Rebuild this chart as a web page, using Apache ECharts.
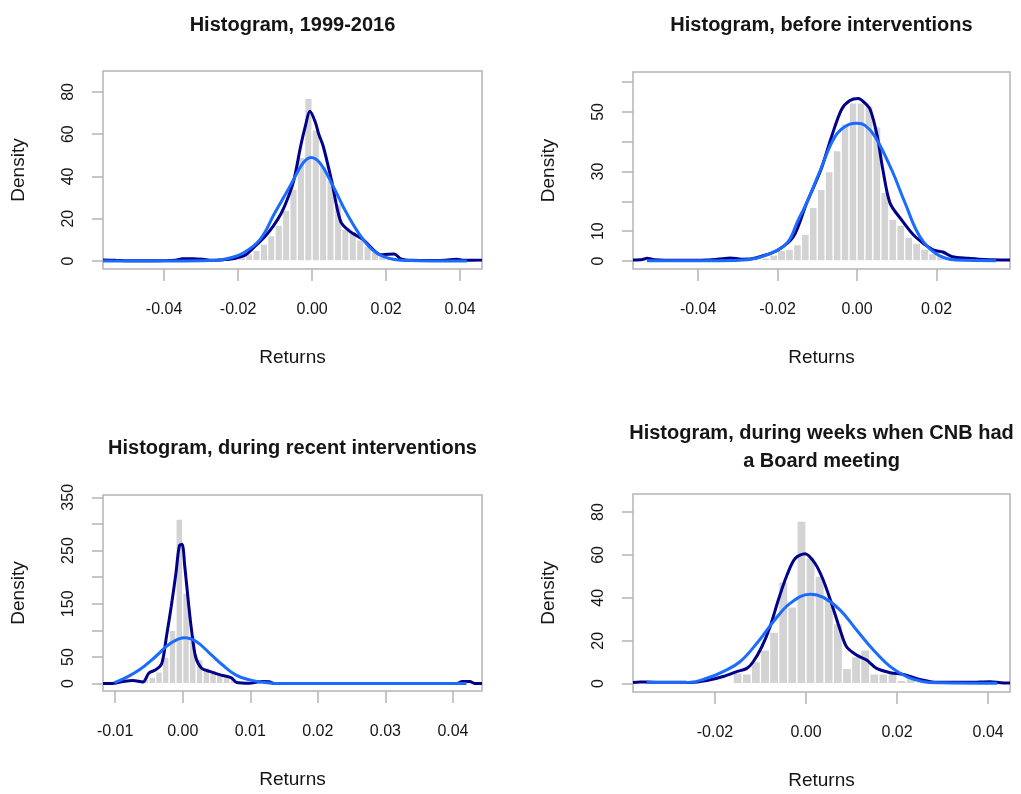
<!DOCTYPE html>
<html>
<head>
<meta charset="utf-8">
<title>Histograms of returns</title>
<script src="https://cdn.jsdelivr.net/npm/echarts@6/dist/echarts.min.js"></script>
<style>
  html, body { margin: 0; background: #fff; }
  #main { width: 1021px; height: 794px; }
</style>
</head>
<body>
<div id="main"></div>
<script>
// ---- values ----

// panel 1: 1999-2016
var p1Title = 'Histogram, 1999-2016';
var p1BinStart = -0.026, p1BinWidth = 0.002;
var p1Bars = [0.5, 0.8, 1.2, 2.0, 3.5, 5, 8, 12, 17, 24, 34, 49, 77, 62, 45, 38, 27, 15, 14, 10, 7, 4, 3, 2, 1.5, 1, 0.6, 0.4];
var p1Kde = [[-0.0565,0.5],[-0.053,0.3],[-0.048,0.1],[-0.042,0.1],[-0.037,0.4],[-0.035,1.0],[-0.032,1.1],[-0.0295,0.8],[-0.027,0.3],[-0.024,0.6],[-0.021,1.2],[-0.018,2.8],[-0.016,6.0],[-0.0128,11.5],[-0.0105,16.5],[-0.0083,22.7],[-0.0065,30],[-0.0049,38.5],[-0.0031,54.3],[-0.0018,64],[-0.0006,70.8],[0.0008,66],[0.0018,60],[0.003,54.3],[0.0052,38.5],[0.0077,18.7],[0.0102,14],[0.0138,10.1],[0.0165,5.4],[0.0185,3.0],[0.0205,3.2],[0.0222,3.3],[0.024,1.0],[0.027,0.3],[0.032,0.2],[0.036,0.3],[0.039,0.8],[0.041,0.3],[0.0459,0.4]];
var p1Norm = [[-0.0565,0.0],[-0.035,0.0],[-0.0258,0.3],[-0.0222,1.4],[-0.0186,3.8],[-0.0141,10.1],[-0.0101,22.7],[-0.006,35.3],[-0.0024,46.4],[-0.0003,49],[0.0021,46.4],[0.0057,35.3],[0.0093,22.7],[0.0138,10.1],[0.0174,3.8],[0.0219,0.8],[0.026,0.2],[0.032,0.0],[0.0418,0.0]];
var p1XTicks = [-0.04, -0.02, 0, 0.02, 0.04];
var p1YTicks = [0, 20, 40, 60, 80];
var p1YLabels = [0, 20, 40, 60, 80];

// panel 2: before interventions
var p2Title = 'Histogram, before interventions';
var p2BinStart = -0.024, p2BinWidth = 0.002;
var p2Bars = [1, 2, 3.5, 4, 5.5, 9, 18, 24, 30, 37, 46, 53, 53, 52, 45, 23, 14, 12, 8, 6, 4, 2.5, 2, 1.2, 0.6];
var p2Kde = [[-0.0564,0.3],[-0.054,0.5],[-0.0529,0.9],[-0.051,0.4],[-0.045,0.2],[-0.038,0.3],[-0.034,0.7],[-0.032,1.0],[-0.029,0.6],[-0.0265,0.7],[-0.0244,1.4],[-0.0199,3.7],[-0.016,8.2],[-0.0127,19.4],[-0.0091,30.6],[-0.0064,41.8],[-0.0039,50.8],[-0.0018,53.8],[0.0003,54.5],[0.0018,53.2],[0.0033,50.8],[0.0051,41.8],[0.0065,30.6],[0.0083,19.4],[0.0112,13.8],[0.0146,8.2],[0.0191,3.7],[0.0216,3.0],[0.024,1.4],[0.028,0.9],[0.032,0.5],[0.0385,0.3]];
var p2Norm = [[-0.0529,0.1],[-0.035,0.1],[-0.027,0.5],[-0.0227,2],[-0.0177,5.9],[-0.0148,13.8],[-0.0127,19.4],[-0.0092,30.6],[-0.0055,41.8],[-0.002,45.8],[0.0,46.2],[0.002,45.5],[0.0045,41.8],[0.0087,30.6],[0.0121,19.4],[0.0158,8.2],[0.020,2.3],[0.025,0.3],[0.035,0.1]];
var p2XTicks = [-0.04, -0.02, 0, 0.02];
var p2YTicks = [0, 10, 20, 30, 40, 50, 60];
var p2YLabels = [0, 10, 30, 50];

// panel 3: during recent interventions
var p3Title = 'Histogram, during recent interventions';
var p3BinStart = -0.007, p3BinWidth = 0.001;
var p3Bars = [3, 8, 12, 22, 50, 100, 309, 170, 90, 45, 30, 25, 18, 12, 10, 3];
var p3Kde = [[-0.0118,0.5],[-0.0105,0.3],[-0.0088,4],[-0.0074,6],[-0.0059,3],[-0.005,20],[-0.004,26],[-0.0031,38],[-0.0024,89],[-0.0017,145],[-0.001,208],[-0.0005,259],[-0.0001,262],[0.0003,221],[0.0008,158],[0.0013,101],[0.0019,51],[0.0028,29],[0.004,23],[0.0057,16],[0.0072,11],[0.008,2],[0.0099,0.6],[0.011,3],[0.0118,4],[0.0128,3.5],[0.0135,0.5],[0.02,0.3],[0.03,0.3],[0.0405,0.3],[0.0414,4],[0.0425,4],[0.0432,0.5],[0.0443,0.3]];
var p3Norm = [[-0.0101,2],[-0.0088,9],[-0.0064,26],[-0.004,51],[-0.0019,75],[0.0003,86],[0.002,79],[0.004,57],[0.0059,35],[0.0079,16],[0.0099,7],[0.0118,2.5],[0.0138,0.5],[0.02,0.2],[0.042,0.2]];
var p3XTicks = [-0.01, 0, 0.01, 0.02, 0.03, 0.04];
var p3YTicks = [0, 50, 100, 150, 200, 250, 300, 350];
var p3YLabels = [0, 50, 150, 250, 350];

// panel 4: weeks with a CNB Board meeting
var p4Title = 'Histogram, during weeks when CNB had\na Board meeting';
var p4BinStart = -0.016, p4BinWidth = 0.002;
var p4Bars = [5, 4.5, 10.2, 15.7, 24, 47.4, 35.8, 75.8, 59, 50, 39, 28, 7.1, 12.6, 15.7, 4.5, 4.5, 4.5, 1.5, 3.3, 0.8];
var p4Kde = [[-0.038,0.5],[-0.0365,0.8],[-0.033,0.7],[-0.0277,0.7],[-0.0255,0.5],[-0.0218,1.4],[-0.0182,3.3],[-0.0152,5.6],[-0.013,7.1],[-0.0116,10.2],[-0.0097,17.2],[-0.0079,26.5],[-0.0061,38.9],[-0.0042,50.5],[-0.0024,58.3],[-0.0002,60.6],[0.002,56],[0.0038,48.2],[0.0056,37.4],[0.0075,25],[0.0089,17.2],[0.0111,13.3],[0.0133,11],[0.0155,7.1],[0.0185,5.1],[0.0214,4.3],[0.024,2.5],[0.0273,0.9],[0.0295,0.6],[0.036,0.6],[0.0404,0.9],[0.0434,0.3],[0.0448,0.3]];
var p4Norm = [[-0.035,0.5],[-0.0255,0.6],[-0.0218,2.5],[-0.0182,5.6],[-0.0145,10.2],[-0.0108,18.8],[-0.0072,28.8],[-0.0035,37.4],[0.0009,41.7],[0.0038,40.2],[0.0075,34.3],[0.0111,25],[0.0148,15.7],[0.0185,7.9],[0.0221,3.3],[0.0258,0.9],[0.0295,0.4],[0.042,0.2]];
var p4XTicks = [-0.02, 0, 0.02, 0.04];
var p4YTicks = [0, 20, 40, 60, 80];
var p4YLabels = [0, 20, 40, 60, 80];

// ---- layout ----
var panels = [
  { title: p1Title, start: p1BinStart, width: p1BinWidth, bars: p1Bars, kde: p1Kde, norm: p1Norm, xt: p1XTicks, yt: p1YTicks, yl: p1YLabels,
    grid: { left: 103, top: 71, width: 379, height: 198 }, xr: [-0.0565, 0.0459], yr: [-3.8, 89.9], titleTop: 11 },
  { title: p2Title, start: p2BinStart, width: p2BinWidth, bars: p2Bars, kde: p2Kde, norm: p2Norm, xt: p2XTicks, yt: p2YTicks, yl: p2YLabels,
    grid: { left: 633, top: 72, width: 377, height: 197 }, xr: [-0.0564, 0.0385], yr: [-2.7, 63.4], titleTop: 11 },
  { title: p3Title, start: p3BinStart, width: p3BinWidth, bars: p3Bars, kde: p3Kde, norm: p3Norm, xt: p3XTicks, yt: p3YTicks, yl: p3YLabels,
    grid: { left: 103, top: 495, width: 379, height: 196 }, xr: [-0.0118, 0.0443], yr: [-13.8, 354.3], titleTop: 434 },
  { title: p4Title, start: p4BinStart, width: p4BinWidth, bars: p4Bars, kde: p4Kde, norm: p4Norm, xt: p4XTicks, yt: p4YTicks, yl: p4YLabels,
    grid: { left: 633, top: 494, width: 377, height: 198 }, xr: [-0.038, 0.0448], yr: [-3.9, 88.4], titleTop: 419 }
];

var FONT = 'Liberation Sans, Arial, sans-serif';
var GRAY = '#b4b4b4';
var INK = '#151515';

var option = { animation: false, backgroundColor: '#fff', title: [], grid: [], xAxis: [], yAxis: [], series: [] };

panels.forEach(function (p, i) {
  var g = p.grid;
  option.title.push({
    text: p.title, left: g.left + g.width / 2, top: p.titleTop, textAlign: 'center', padding: 0,
    textStyle: { fontFamily: FONT, fontSize: 20, fontWeight: 'bold', color: INK, lineHeight: 28 }
  });
  option.grid.push({ left: g.left, top: g.top, width: g.width, height: g.height, show: true,
    borderColor: GRAY, borderWidth: 1.5, backgroundColor: 'transparent' });
  option.xAxis.push({
    type: 'value', gridIndex: i, min: p.xr[0], max: p.xr[1],
    name: 'Returns', nameLocation: 'middle', nameGap: 79,
    nameTextStyle: { fontFamily: FONT, fontSize: 19, color: INK },
    axisLine: { show: false, onZero: false }, splitLine: { show: false },
    axisTick: { show: true, length: 12, lineStyle: { color: GRAY, width: 1.5 }, customValues: p.xt },
    axisLabel: { fontFamily: FONT, fontSize: 16, color: INK, margin: 33, customValues: p.xt,
      formatter: function (v) { return v.toFixed(2); } }
  });
  option.yAxis.push({
    type: 'value', gridIndex: i, min: p.yr[0], max: p.yr[1],
    name: 'Density', nameLocation: 'middle', nameGap: 75, nameRotate: 90,
    nameTextStyle: { fontFamily: FONT, fontSize: 19, color: INK },
    axisLine: { show: false, onZero: false }, splitLine: { show: false },
    axisTick: { show: true, length: 11, lineStyle: { color: GRAY, width: 1.5 }, customValues: p.yt },
    axisLabel: { fontFamily: FONT, fontSize: 16, color: INK, margin: 26, rotate: 90, customValues: p.yl,
      formatter: function (v) { return String(Math.round(v)); } }
  });

  var binData = p.bars.map(function (h, k) {
    var x0 = p.start + k * p.width;
    return [x0, x0 + p.width, h];
  });
  option.series.push({
    type: 'custom', xAxisIndex: i, yAxisIndex: i, clip: true, data: binData,
    encode: { x: [0, 1], y: 2 },
    renderItem: function (params, api) {
      var a = api.coord([api.value(0), api.value(2)]);
      var b = api.coord([api.value(1), 0]);
      return { type: 'rect', shape: { x: a[0], y: a[1], width: b[0] - a[0], height: b[1] - a[1] },
        style: { fill: '#d3d3d3', stroke: '#ffffff', lineWidth: 1.2 } };
    }
  });
  option.series.push({
    type: 'line', xAxisIndex: i, yAxisIndex: i, data: p.kde, showSymbol: false, smooth: 0.3,
    clip: true, lineStyle: { color: '#00008b', width: 3 }, z: 3
  });
  option.series.push({
    type: 'line', xAxisIndex: i, yAxisIndex: i, data: p.norm, showSymbol: false, smooth: 0.4,
    clip: true, lineStyle: { color: '#1a6cff', width: 3 }, z: 4
  });
});

var chart = echarts.init(document.getElementById('main'));
chart.setOption(option);
</script>
</body>
</html>
